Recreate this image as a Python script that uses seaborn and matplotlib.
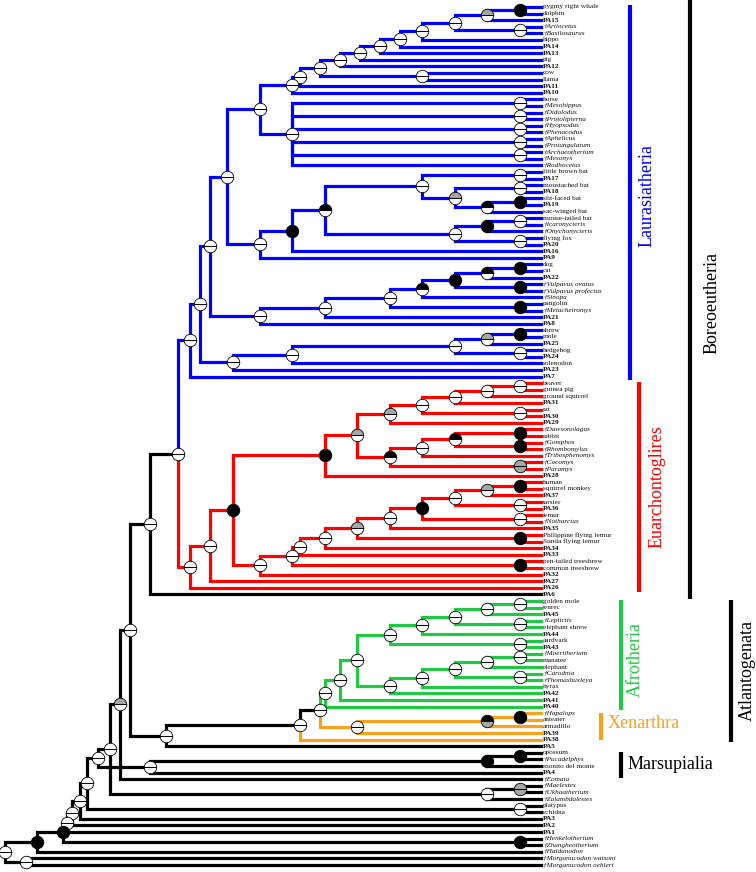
import matplotlib
matplotlib.use("Agg")
import matplotlib.pyplot as plt
import numpy as np
import pandas as pd
import seaborn as sns

# ---------------- data ----------------
tip_labels = [
    "pygmy right whale", "dolphin", "PA15", "†Artiocetus", "†Basilosaurus", "hippo", "PA14", "PA13",
    "pig", "PA12", "cow", "llama", "PA11", "PA10", "horse", "†Mesohippus", "†Didolodus",
    "†Protolipterna", "†Hyopsodus", "†Phenacodus", "†Aphelicus", "†Protungulatum", "†Archaeotherium",
    "†Mesonyx", "†Rodhocetus", "little brown bat", "PA17", "moustached bat", "PA18", "slit-faced bat",
    "PA19", "sac-winged bat", "mouse-tailed bat", "†Icaronycteris", "†Onychonycteris", "flying fox",
    "PA20", "PA16", "PA9", "dog", "cat", "PA22", "†Vulpavus ovatus", "†Vulpavus profectus", "†Sinopa",
    "pangolin", "†Metacheiromys", "PA21", "PA8", "shrew", "mole", "PA25", "hedgehog", "PA24",
    "solenodon", "PA23", "PA7",
    "beaver", "guinea pig", "ground squirrel", "PA31", "rat", "PA30", "PA29", "†Dawsonolagus", "rabbit",
    "†Gomphos", "†Rhombomylus", "†Tribosphenomys", "†Cocomys", "†Paramys", "PA28", "human",
    "squirrel monkey", "PA37", "tarsier", "PA36", "lemur", "†Notharctus", "PA35",
    "Philippine flying lemur", "Sunda flying lemur", "PA34", "PA33", "pen-tailed treeshrew",
    "common treeshrew", "PA32", "PA27", "PA26", "PA6",
    "golden mole", "tenrec", "PA45", "†Leptictis", "elephant shrew", "PA44", "aardvark", "PA43",
    "†Moeritherium", "manatee", "elephant", "†Carodnia", "†Thomashuxleya", "hyrax", "PA42", "PA41", "PA40",
    "†Hapalops", "anteater", "armadillo", "PA39", "PA38", "PA5",
    "opossum", "†Pucadelphys", "monito del monte", "PA4", "†Eomaia", "†Maelestes", "†Ukhaatherium",
    "†Zalambdalestes", "platypus", "echidna", "PA3", "PA2", "PA1", "†Henkelotherium",
    "†Zhangheotherium", "†Haldanodon", "†Morganucodon watsoni", "†Morganucodon oehleri",
]

# clade membership of the tips, as consecutive runs
tip_clades = ["Laurasiatheria", "Euarchontoglires", "stem", "Afrotheria", "Xenarthra", "stem"]
tip_clade_counts = [57, 32, 1, 17, 5, 19]

clade_colors = {"Laurasiatheria": "#0000ff", "Euarchontoglires": "#ff0000",
                "Afrotheria": "#22c845", "Xenarthra": "#f5a21f", "stem": "#000000"}

# internal nodes: children (tip indices or node names)
children = {
    "a1": [0, 1], "a2": ["a1", 2], "a3": [3, 4], "a4": ["a2", "a3"], "a5": ["a4", 5],
    "a6": ["a5", 6], "a7": ["a6", 7], "a8": ["a7", 8], "a9": ["a8", 9], "a10": [10, 11],
    "a11": ["a9", "a10"], "a12": ["a11", 12], "a13": ["a12", 13],
    "h1": [14, 15], "h2": [16, 17], "h3": [18, 19], "h4": [20, 21], "h5": [22, 23],
    "h6": ["h1", "h2", "h3", "h4", "h5", 24], "a14": ["a13", "h6"],
    "b1": [29, 30], "b2": ["b1", 31], "b3": [27, 28], "b4": ["b3", "b2"], "b5": [25, 26],
    "b6": ["b5", "b4"], "b7": [32, 33], "b8": ["b7", 34], "b9": [35, 36], "b10": ["b8", "b9"],
    "b11": ["b6", "b10"], "b12": ["b11", 37], "b13": ["b12", 38], "a15": ["a14", "b13"],
    "c1": [39, 40], "c2": ["c1", 41], "c3": [42, 43], "c4": ["c2", "c3"], "c5": ["c4", 44],
    "c6": [45, 46], "c7": ["c5", "c6"], "c8": ["c7", 47], "c9": ["c8", 48], "a16": ["a15", "c9"],
    "e1": [49, 50], "e2": ["e1", 51], "e3": [52, 53], "e4": ["e2", "e3"], "e5": ["e4", 54],
    "e6": ["e5", 55], "a17": ["a16", "e6"], "a18": ["a17", 56],
    "r1": [57, 58], "r2": ["r1", 59], "r3": ["r2", 60], "r4": [61, 62], "r5": ["r3", "r4"],
    "r6": ["r5", 63], "r7": [64, 65], "r8": [66, 67], "r9": ["r7", "r8"], "r10": ["r9", 68],
    "r11": [69, 70], "r12": ["r10", "r11"], "r13": ["r6", "r12"], "r14": ["r13", 71],
    "p1": [72, 73], "p2": ["p1", 74], "p3": [75, 76], "p4": ["p2", "p3"], "p5": [77, 78],
    "p6": ["p4", "p5"], "p7": ["p6", 79], "p8": [80, 81], "p9": ["p7", "p8"], "p10": ["p9", 82],
    "p11": ["p10", 83], "p12": [84, 85], "p13": ["p11", "p12"], "p14": ["p13", 86],
    "r15": ["r14", "p14"], "r16": ["r15", 87], "r17": ["r16", 88],
    "bo": ["a18", "r17"], "bo2": ["bo", 89],
    "f1": [90, 91], "f2": ["f1", 92], "f3": [93, 94], "f4": ["f2", "f3"], "f5": ["f4", 95],
    "f6": [96, 97], "f7": ["f5", "f6"], "f8": [98, 99], "f9": ["f8", 100], "f10": [101, 102],
    "f11": ["f9", "f10"], "f12": ["f11", 103], "f13": ["f12", 104], "f14": ["f7", "f13"],
    "f15": ["f14", 105], "f16": ["f15", 106],
    "x1": [107, 108], "x2": ["x1", 109], "x3": ["x2", 110],
    "at": ["f16", "x3"], "at2": ["at", 111], "at3": ["at2", 112],
    "pl": ["bo2", "at3"],
    "m1": [113, 114], "m2": ["m1", 115], "m3": ["m2", 116],
    "u1": [118, 119], "u2": ["u1", 120], "eu1": ["pl", 117], "eu2": ["eu1", "u2"],
    "th": ["eu2", "m3"], "mo": [121, 122], "mam": ["th", "mo"], "s1": ["mam", 123],
    "s2": ["s1", 124], "s3": ["s2", 125], "hz": [126, 127], "s4": ["s3", "hz"],
    "s5": ["s4", 128], "mg": [129, 130], "root": ["s5", "mg"],
}

# node ages (0 = tips, 100 = root)
node_age = {
    "a1": 3.9, "a2": 10.1, "a3": 3.9, "a4": 16.0, "a5": 22.2, "a6": 26.3, "a7": 30.0, "a8": 33.8,
    "a9": 37.5, "a10": 22.2, "a11": 41.2, "a12": 45.0, "a13": 46.5,
    "h1": 3.9, "h2": 3.9, "h3": 3.9, "h4": 3.9, "h5": 3.9, "h6": 46.5, "a14": 52.4,
    "b1": 3.9, "b2": 10.1, "b3": 3.9, "b4": 16.0, "b5": 3.9, "b6": 22.2, "b7": 3.9, "b8": 10.1,
    "b9": 3.9, "b10": 16.0, "b11": 40.3, "b12": 46.5, "b13": 52.4, "a15": 58.6,
    "c1": 3.9, "c2": 10.1, "c3": 3.9, "c4": 16.0, "c5": 22.2, "c6": 3.9, "c7": 28.2, "c8": 40.3,
    "c9": 52.4, "a16": 61.8, "e1": 3.9, "e2": 10.1, "e3": 3.9, "e4": 16.0, "e5": 46.5, "e6": 57.5,
    "a17": 63.6, "a18": 65.5,
    "r1": 3.9, "r2": 10.1, "r3": 16.0, "r4": 3.9, "r5": 22.2, "r6": 28.2, "r7": 3.9, "r8": 3.9,
    "r9": 16.0, "r10": 22.2, "r11": 3.9, "r12": 28.2, "r13": 34.3, "r14": 40.3,
    "p1": 3.9, "p2": 10.1, "p3": 3.9, "p4": 16.0, "p5": 3.9, "p6": 22.2, "p7": 28.2, "p8": 3.9,
    "p9": 34.3, "p10": 40.3, "p11": 45.0, "p12": 3.9, "p13": 46.5, "p14": 52.4,
    "r15": 57.5, "r16": 61.8, "r17": 65.5, "bo": 67.7, "bo2": 73.0,
    "f1": 3.9, "f2": 10.1, "f3": 3.9, "f4": 16.0, "f5": 22.2, "f6": 3.9, "f7": 28.2, "f8": 3.9,
    "f9": 10.1, "f10": 3.9, "f11": 16.0, "f12": 22.2, "f13": 28.2, "f14": 34.3, "f15": 37.5,
    "f16": 40.3, "x1": 3.9, "x2": 10.1, "x3": 34.3, "at": 41.2, "at2": 45.0, "at3": 70.0,
    "pl": 76.7, "m1": 3.9, "m2": 10.1, "m3": 73.0, "u1": 3.9, "u2": 10.1, "eu1": 78.6,
    "eu2": 80.5, "th": 82.7, "mo": 3.9, "mam": 84.7, "s1": 86.0, "s2": 87.5, "s3": 88.5,
    "hz": 3.9, "s4": 89.2, "s5": 94.0, "mg": 96.0, "root": 100.0,
}

# node reconstruction marks: top half / bottom half (W white, B black, G gray)
node_state = {
    "a1": "BB", "a2": "GW", "b1": "BB", "b2": "BW", "b4": "GW", "b8": "BB", "b11": "BW",
    "b12": "BB", "c1": "BB", "c2": "BW", "c3": "BB", "c4": "BB", "c5": "BW", "c6": "BB",
    "e1": "BB", "e2": "GW", "r6": "GW", "r7": "BB", "r8": "BB", "r9": "BW", "r11": "GG",
    "r12": "BW", "r13": "GW", "r14": "BB", "p1": "BB", "p2": "GW", "p6": "BB", "p8": "BB",
    "p9": "GW", "p12": "BB", "r15": "BB", "x1": "BB", "x2": "BG",
    "m1": "BB", "m2": "BB", "u1": "GG", "eu1": "GW", "hz": "BB", "s4": "BB", "s5": "BB",
}

# ---------------- layout ----------------
tip_clade = []
for c, n in zip(tip_clades, tip_clade_counts):
    tip_clade += [c] * n

pos_y, pos_age, clade_of = {}, {}, {}
for i, lab in enumerate(tip_labels):
    pos_y[i] = i
    pos_age[i] = 0.0
    clade_of[i] = tip_clade[i]


def place(n):
    if isinstance(n, int):
        return
    for ch in children[n]:
        place(ch)
    ys = [pos_y[ch] for ch in children[n]]
    pos_y[n] = (min(ys) + max(ys)) / 2
    pos_age[n] = node_age[n]
    cl = {clade_of[ch] for ch in children[n]}
    clade_of[n] = cl.pop() if len(cl) == 1 else "stem"


place("root")

rows = []
seg = 0
for n, kids in children.items():
    for ch in kids:
        for (x, y) in [(pos_age[n], pos_y[n]), (pos_age[n], pos_y[ch]), (pos_age[ch], pos_y[ch])]:
            rows.append({"seg": seg, "age": x, "y": y, "clade": clade_of[ch]})
        seg += 1
edges = pd.DataFrame(rows)

# ---------------- drawing ----------------
sns.set_theme(style="white")
plt.rcParams["font.family"] = ["Liberation Serif", "DejaVu Serif"]

fig = plt.figure(figsize=(7.56, 8.72), dpi=100)
ax = fig.add_axes([0, 0, 1, 1])

sns.lineplot(data=edges, x="age", y="y", units="seg", hue="clade", palette=clade_colors,
             estimator=None, sort=False, legend=False, linewidth=2.3, ax=ax,
             solid_capstyle="projecting", solid_joinstyle="miter")

fills = {"W": "white", "B": "black", "G": "#a6a6a6"}
for n in children:
    st = node_state.get(n, "WW")
    ax.plot(pos_age[n], pos_y[n], marker="o", markersize=9, fillstyle="top",
            markerfacecolor=fills[st[0]], markerfacecoloralt=fills[st[1]],
            markeredgecolor="black", markeredgewidth=0.6, zorder=5)
    ax.plot(pos_age[n], pos_y[n], marker="_", markersize=9, color="black",
            markeredgewidth=0.6, zorder=6)

for i, lab in enumerate(tip_labels):
    kw = {}
    if lab.startswith("PA"):
        kw["fontweight"] = "bold"
    if lab.startswith("†"):
        kw["fontstyle"] = "italic"
    ax.annotate(lab, (0, i), xytext=(1.5, 0), textcoords="offset points", va="center",
                ha="left", fontsize=5.2, color="#111111", **kw)

ax.set_xlim(100.93, -40.1)
ax.set_ylim(131.06, -1.06)
ax.axis("off")

# clade bars and names
tr = ax.get_yaxis_transform()  # x in axes fraction, y in data


def bar(xf, y0, y1, color, lw=3):
    ax.plot([xf, xf], [y0, y1], color=color, lw=lw, transform=tr, solid_capstyle="butt")


bar(630 / 756, -0.3, 56.5, clade_colors["Laurasiatheria"])
bar(639 / 756, 56.8, 88.6, clade_colors["Euarchontoglires"])
bar(621 / 756, 89.9, 106.5, clade_colors["Afrotheria"])
bar(601 / 756, 106.9, 111.0, clade_colors["Xenarthra"])
bar(621 / 756, 112.9, 116.8, "black")
bar(690 / 756, -1.1, 89.7, "black")
bar(731 / 756, 89.9, 111.4, "black")

ax.text(647 / 756, 28.6, "Laurasiatheria", rotation=90, transform=tr, ha="center", va="center",
        fontsize=13, color=clade_colors["Laurasiatheria"])
ax.text(657 / 756, 72.7, "Euarchontoglires", rotation=90, transform=tr, ha="center",
        va="center", fontsize=13, color=clade_colors["Euarchontoglires"])
ax.text(635 / 756, 98.9, "Afrotheria", rotation=90, transform=tr, ha="center", va="center",
        fontsize=13, color=clade_colors["Afrotheria"])
ax.text(608 / 756, 108.6, "Xenarthra", transform=tr, ha="left", va="center",
        fontsize=13, color=clade_colors["Xenarthra"])
ax.text(628 / 756, 114.8, "Marsupialia", transform=tr, ha="left", va="center",
        fontsize=13, color="black")
ax.text(712 / 756, 44.8, "Boreoeutheria", rotation=90, transform=tr, ha="center", va="center",
        fontsize=13, color="black")
ax.text(747 / 756, 100.5, "Atlantogenata", rotation=90, transform=tr, ha="center", va="center",
        fontsize=13, color="black")

fig.savefig("out.png", dpi=100)
